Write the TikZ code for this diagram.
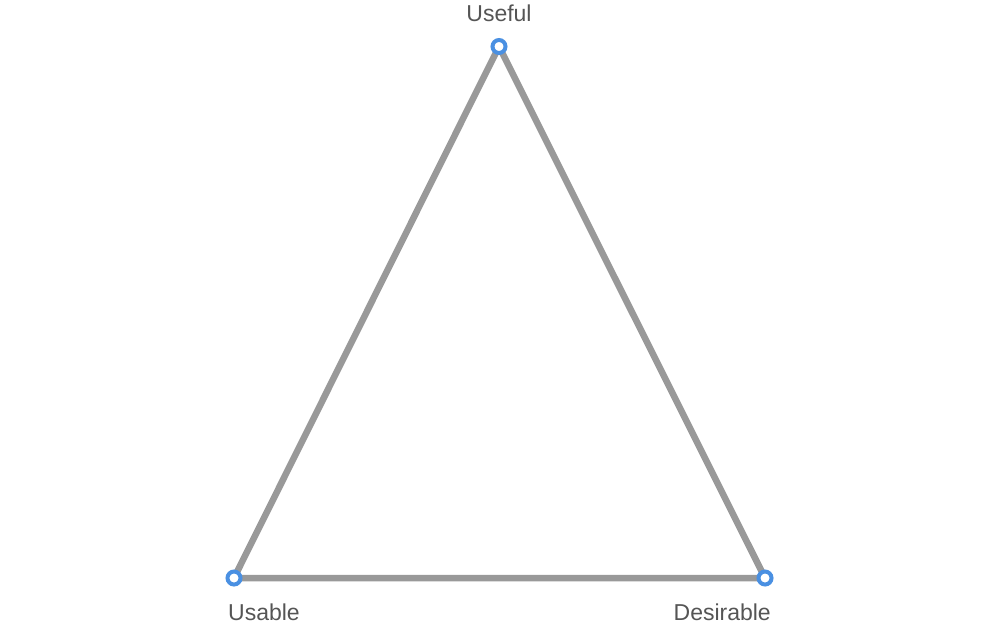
\documentclass[tikz,border=0pt]{standalone}
\usepackage{fontspec}
\setmainfont{Liberation Sans}
\usetikzlibrary{backgrounds}
\definecolor{edgegray}{HTML}{999999}
\definecolor{dotblue}{HTML}{4A90E2}
\definecolor{labelgray}{HTML}{555555}
\begin{document}
\begin{tikzpicture}[x=1pt,y=-1pt,
  vertex/.style={circle,draw=dotblue,fill=white,line width=4pt,minimum size=13pt,inner sep=0pt},
  edge/.style={draw=edgegray,line width=6.5pt},
  lbl/.style={text=labelgray,font=\fontsize{23}{27}\selectfont,inner sep=0pt}]
\useasboundingbox (0,0) rectangle (1000,624);
\node[vertex] (top) at (499,46.5) {};
\node[vertex] (bl) at (234,578) {};
\node[vertex] (br) at (765,578) {};
\begin{scope}[on background layer]
\draw[edge] (top.center) -- (bl.center) -- (br.center) -- cycle;
\end{scope}
\node[lbl] (tUseful) at (499,13) {Useful};
\node[lbl,anchor=west] (tUsable) at (228,612) {Usable};
\node[lbl,anchor=east] (tDes) at (771,612) {Desirable};
\end{tikzpicture}
\end{document}
